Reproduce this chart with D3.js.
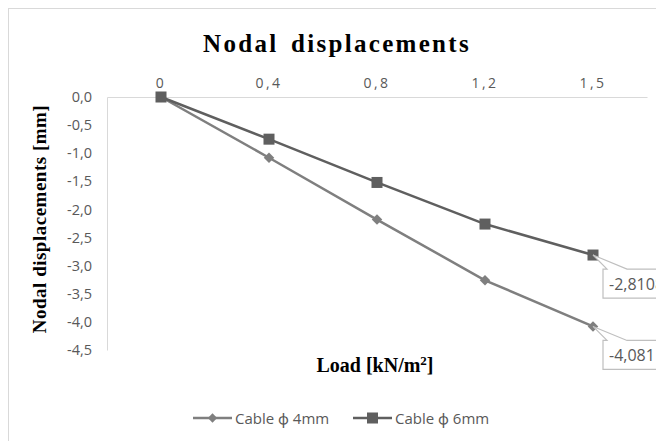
<!DOCTYPE html>
<html>
<head>
<meta charset="utf-8">
<script src="https://cdn.jsdelivr.net/npm/d3@7"></script>
<style>
  body { margin: 0; background: #fff; }
  svg text { font-family: "Open Sans", "Noto Sans", sans-serif; }
</style>
</head>
<body>
<div id="chart"></div>
<script>
var loads = ["0", "0,4", "0,8", "1,2", "1,5"];
var cable4 = [0, -1.08, -2.18, -3.26, -4.081];
var cable6 = [0, -0.75, -1.52, -2.26, -2.8108];
var yTicks = [0, -0.5, -1, -1.5, -2, -2.5, -3, -3.5, -4, -4.5];
var seriesNames = ["Cable \u03d5 4mm", "Cable \u03d5 6mm"];
var endLabels = ["-4,081", "-2,8108"];

var W = 656, H = 441;
var margin = {top: 97, left: 107},
    width = 540,
    height = 253;

var svg = d3.select("#chart").append("svg")
    .attr("width", W)
    .attr("height", H);

// chart border (cut off at right/bottom like the picture)
svg.append("rect")
    .attr("x", 8.5).attr("y", 8.5)
    .attr("width", 700).attr("height", 500)
    .attr("fill", "none")
    .attr("stroke", "#d9d9d9");

svg.append("text")
    .attr("x", 337).attr("y", 52)
    .attr("text-anchor", "middle")
    .style("font-family", "'Liberation Serif', serif")
    .style("font-weight", "bold")
    .style("font-size", "25px")
    .style("letter-spacing", "2.3px")
    .style("word-spacing", "4px")
    .text("Nodal displacements");

var g = svg.append("g")
    .attr("transform", "translate(" + margin.left + "," + margin.top + ")");

var x = d3.scaleBand()
    .domain(loads)
    .range([0, width]);

var y = d3.scaleLinear()
    .domain([0, -4.5])
    .range([0, height]);

var fmt = function(d) { return d3.format(".1f")(d).replace(".", ",").replace("\u2212", "-"); };

// y axis
var yAxis = g.append("g")
    .call(d3.axisLeft(y).tickValues(yTicks).tickSize(0).tickPadding(15).tickFormat(fmt));
yAxis.select(".domain").attr("stroke", "#d9d9d9");
yAxis.selectAll("text")
    .attr("fill", "#595959")
    .style("font-size", "14.5px");

// x axis at top (crosses at 0)
var xAxis = g.append("g")
    .call(d3.axisTop(x).tickSize(0).tickPadding(9));
xAxis.select(".domain").attr("stroke", "#d9d9d9");
xAxis.selectAll("text")
    .attr("fill", "#595959")
    .style("font-size", "14px")
    .style("letter-spacing", "2.5px");

svg.append("text")
    .attr("transform", "translate(46,219) rotate(-90)")
    .attr("text-anchor", "middle")
    .style("font-family", "'Liberation Serif', serif")
    .style("font-weight", "bold")
    .style("font-size", "19px")
    .style("letter-spacing", "0.5px")
    .text("Nodal displacements [mm]");

var xt = svg.append("text")
    .attr("x", 375).attr("y", 372)
    .attr("text-anchor", "middle")
    .style("font-family", "'Liberation Serif', serif")
    .style("font-weight", "bold")
    .style("font-size", "20px");
xt.append("tspan").text("Load [kN/m");
xt.append("tspan").attr("dy", -7).style("font-size", "13px").text("2");
xt.append("tspan").attr("dy", 7).text("]");

var cx = function(d, i) { return x(loads[i]) + x.bandwidth() / 2; };
var line = d3.line()
    .x(function(d, i) { return cx(d, i); })
    .y(function(d) { return y(d); });

var colors = ["#7f7f7f", "#5f5f5f"];
var data = [cable4, cable6];

data.forEach(function(vals, s) {
  g.append("path")
      .datum(vals)
      .attr("fill", "none")
      .attr("stroke", colors[s])
      .attr("stroke-width", 2.5)
      .attr("d", line);
});

// diamonds
g.selectAll(".dia")
    .data(cable4)
  .enter().append("path")
    .attr("d", d3.symbol().type(d3.symbolDiamond2).size(70))
    .attr("transform", function(d, i) { return "translate(" + cx(d, i) + "," + y(d) + ")"; })
    .attr("fill", colors[0]);

// squares
g.selectAll(".sq")
    .data(cable6)
  .enter().append("rect")
    .attr("x", function(d, i) { return cx(d, i) - 5.5; })
    .attr("y", function(d) { return y(d) - 5.5; })
    .attr("width", 11).attr("height", 11)
    .attr("fill", colors[1]);

// data label callouts at last point
data.forEach(function(vals, s) {
  var px = cx(0, 4), py = y(vals[4]);
  var bx = px + 10, by = py + 14, bw = 80, bh = 29;
  g.append("path")
      .attr("d", "M" + px + "," + py + "L" + (bx + 4) + "," + by +
                 "L" + bx + "," + by + "L" + bx + "," + (by + bh) +
                 "L" + (bx + bw) + "," + (by + bh) + "L" + (bx + bw) + "," + by +
                 "L" + (bx + 24) + "," + by + "Z")
      .attr("fill", "#fff")
      .attr("stroke", "#bfbfbf")
      .attr("stroke-width", 1.2);
  g.append("text")
      .attr("x", bx + 6).attr("y", by + 21)
      .attr("fill", "#595959")
      .style("font-size", "16px")
      .text(endLabels[s]);
});

// legend
var legend = svg.append("g").attr("transform", "translate(193,418)");
var lx = [0, 160];
seriesNames.forEach(function(name, s) {
  var lg = legend.append("g").attr("transform", "translate(" + lx[s] + ",0)");
  lg.append("line").attr("x1", 0).attr("x2", 39).attr("y1", 0).attr("y2", 0)
      .attr("stroke", colors[s]).attr("stroke-width", 2.5);
  if (s === 0) {
    lg.append("path").attr("d", d3.symbol().type(d3.symbolDiamond2).size(55))
        .attr("transform", "translate(19.5,0)").attr("fill", colors[s]);
  } else {
    lg.append("rect").attr("x", 14).attr("y", -5.5).attr("width", 11).attr("height", 11)
        .attr("fill", colors[s]);
  }
  lg.append("text").attr("x", 42).attr("y", 5.5)
      .attr("fill", "#595959")
      .style("font-size", "15px")
      .text(name);
});
</script>
</body>
</html>
